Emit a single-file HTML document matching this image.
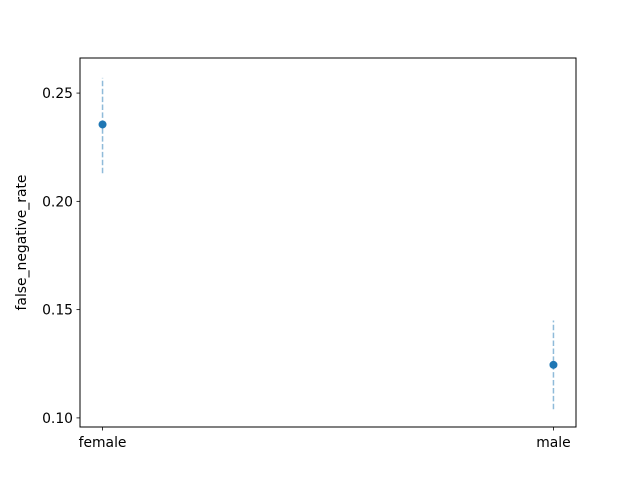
<!DOCTYPE html>
<html><head><meta charset="utf-8"><style>body{margin:0;background:#fff}svg{display:block;font-family:"DejaVu Sans","Liberation Sans",sans-serif}</style></head>
<body>
<svg id="chart" width="640" height="480">
<rect x="0" y="0" width="640" height="480" fill="#fff"/>
<g id="marks"></g>
<rect x="80" y="58" width="496" height="369" fill="none" stroke="#000" stroke-width="1"/>
<g id="axes"></g>
<text x="26" y="242.5" font-size="13.9" text-anchor="middle" transform="rotate(-90 26 242.5)">false_negative_rate</text>
</svg>
<script>
const categories = ["female", "male"];
const values = [0.2355, 0.1245];
const lower = [0.213, 0.104];
const upper = [0.257, 0.145];
const yTicks = [0.10, 0.15, 0.20, 0.25];
const yTickLabels = ["0.10", "0.15", "0.20", "0.25"];

const X0=80, X1=576, Y0=427, Y1=58;
const xMin=-0.05, xMax=1.05, yMin=0.0958, yMax=0.2662;
const sx = i => X0 + (i - xMin) / (xMax - xMin) * (X1 - X0);
const sy = v => Y0 - (v - yMin) / (yMax - yMin) * (Y0 - Y1);
const NS = "http://www.w3.org/2000/svg";
const marks = document.getElementById('marks');
const axes = document.getElementById('axes');
function mk(tag, attrs, parent){const e=document.createElementNS(NS,tag);for(const k in attrs)e.setAttribute(k,attrs[k]);parent.appendChild(e);return e;}

categories.forEach((c,i)=>{
  const x = sx(i);
  const eb = mk('line',{x1:x,x2:x,y1:sy(lower[i]),y2:sy(upper[i]),stroke:'#1f77b4','stroke-opacity':0.5,'stroke-width':1.5,'stroke-dasharray':'5.5,2.4'},marks);
  
  
  const p = mk('circle',{cx:x,cy:sy(values[i]),r:4,fill:'#1f77b4'},marks);
  
  
  const t = mk('line',{x1:x,x2:x,y1:Y0,y2:Y0+3.5,stroke:'#000','stroke-width':0.8},axes);
  
  
  const l = mk('text',{x:x,y:Y0+20,'font-size':13.9,'text-anchor':'middle'},axes);
  l.textContent = c;
  
  
});
yTicks.forEach((v,i)=>{
  const y = sy(v);
  const t = mk('line',{x1:X0-3.5,x2:X0,y1:y,y2:y,stroke:'#000','stroke-width':0.8},axes);
  
  
  const l = mk('text',{x:X0-7,y:y+5,'font-size':13.9,'text-anchor':'end'},axes);
  l.textContent = yTickLabels[i];
  
  
});
</script>
</body></html>
